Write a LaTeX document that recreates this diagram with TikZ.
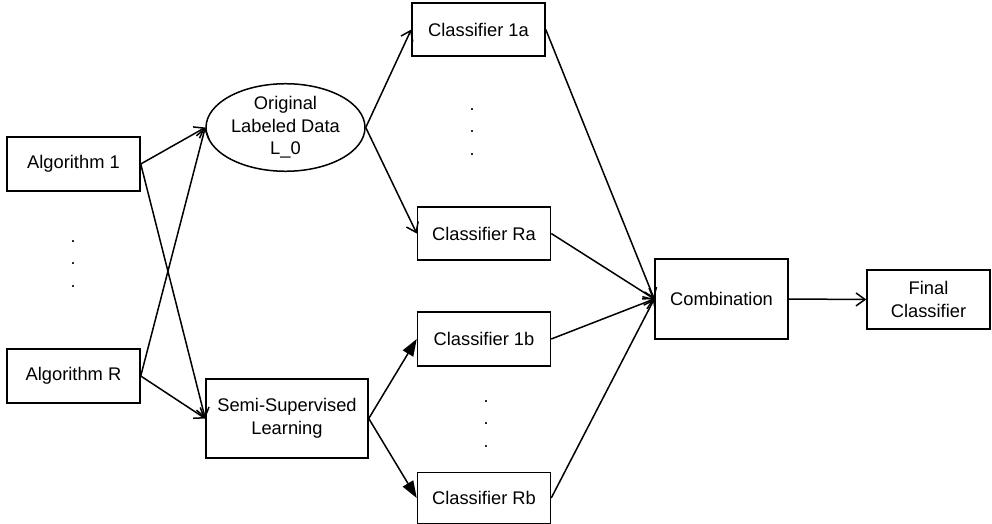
\documentclass[tikz,border=0pt]{standalone}
\usepackage{fontspec}
\setmainfont{Liberation Sans}
\usetikzlibrary{arrows.meta,shapes.geometric}
\tikzset{
  box/.style={draw, line width=1.5pt, rectangle, inner sep=0pt, align=center,
    font=\fontsize{18.3}{22.5}\selectfont},
  oval/.style={draw, line width=1.5pt, ellipse, inner sep=0pt, align=center,
    font=\fontsize{18.3}{22.5}\selectfont, minimum width=159pt, minimum height=79pt},
  conn/.style={line width=1.5pt},
  openarr/.style={conn, -{Straight Barb[length=9pt,width=13pt,line width=1.5pt]}},
  fillarr/.style={conn, -{Triangle[length=17pt,width=12pt]}},
  dots/.style={align=center, inner sep=0pt, font=\fontsize{18}{22.5}\selectfont}
}
\begin{document}
\begin{tikzpicture}[x=1pt,y=-1pt]
\useasboundingbox (0,0) rectangle (992,524);
\node[box, minimum width=133pt, minimum height=54pt] (a1) at (73.5,164) {Algorithm 1};
\node[box, minimum width=133pt, minimum height=54pt] (aR) at (73.5,376) {Algorithm R};
\node[dots] (d1) at (73,264) {.\\.\\.};
\node[oval] (orig) at (285.5,127.5) {Original\\Labeled Data\\L\_0};
\node[box, minimum width=162pt, minimum height=79pt] (ssl) at (287,418.5) {Semi-Supervised\\Learning};
\node[box, minimum width=133pt, minimum height=53pt] (c1a) at (478.5,29.5) {Classifier 1a};
\node[box, minimum width=133pt, minimum height=53pt] (cRa) at (484,233.5) {Classifier Ra};
\node[dots] (d2) at (472,132) {.\\.\\.};
\node[box, minimum width=133pt, minimum height=54pt] (c1b) at (484,339) {Classifier 1b};
\node[dots] (d3) at (486,424) {.\\.\\.};
\node[box, minimum width=133pt, minimum height=51pt] (cRb) at (484,498) {Classifier Rb};
\node[box, minimum width=133pt, minimum height=80pt] (comb) at (721.5,299) {Combination};
\node[box, minimum width=123pt, minimum height=59pt] (fin) at (928.5,299.5) {Final\\Classifier};
\draw[openarr] (a1.east) -- (orig.west);
\draw[openarr] (a1.east) -- (ssl.west);
\draw[openarr] (aR.east) -- (orig.west);
\draw[openarr] (aR.east) -- (ssl.west);
\draw[openarr] (orig.east) -- (c1a.west);
\draw[openarr] (orig.east) -- (cRa.west);
\draw[fillarr] (ssl.east) -- (c1b.west);
\draw[fillarr] (ssl.east) -- (cRb.west);
\draw[openarr] (c1a.east) -- (comb.west);
\draw[openarr] (cRa.east) -- (comb.west);
\draw[openarr] (c1b.east) -- (comb.west);
\draw[openarr] (cRb.east) -- (comb.west);
\draw[openarr] (comb.east) -- (fin.west);
\end{tikzpicture}
\end{document}
